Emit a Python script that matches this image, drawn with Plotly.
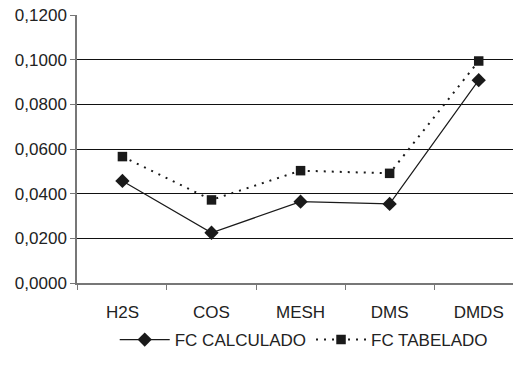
import plotly.graph_objects as go

categories = ["H2S", "COS", "MESH", "DMS", "DMDS"]
fc_calculado = [0.0457, 0.0225, 0.0364, 0.0354, 0.0908]
fc_tabelado = [0.0566, 0.0372, 0.0503, 0.0491, 0.0994]
y_ticks = [0, 0.02, 0.04, 0.06, 0.08, 0.10, 0.12]

fig = go.Figure()
fig.add_trace(go.Scatter(
    x=categories, y=fc_calculado, name="FC CALCULADO",
    mode="lines+markers",
    line=dict(color="#1a1a1a", width=1.2),
    marker=dict(symbol="diamond", size=11, color="#1a1a1a"),
))
fig.add_trace(go.Scatter(
    x=categories, y=fc_tabelado, name="FC TABELADO",
    mode="lines+markers",
    line=dict(color="#1a1a1a", width=2, dash="2px,6px"),
    marker=dict(symbol="square", size=9.5, color="#1a1a1a"),
))

fig.update_layout(
    width=513, height=365,
    margin=dict(l=77, r=0, t=15, b=82),
    paper_bgcolor="white", plot_bgcolor="white",
    separators=",.",
    font=dict(family="Liberation Sans, Arial, sans-serif", size=17, color="#222"),
    showlegend=True,
    legend=dict(orientation="h", x=0.52, xanchor="center",
                yref="container", y=(365 - 340) / 365, yanchor="middle",
                font=dict(size=17), itemwidth=50,
                bgcolor="rgba(0,0,0,0)", borderwidth=0),
    xaxis=dict(
        type="category", range=[-0.51, 4.385],
        tickson="boundaries", ticks="outside", ticklen=5, tickcolor="#777",
        ticklabelstandoff=13,
        showline=True, linecolor="#777", linewidth=1.5,
        showgrid=False, zeroline=False,
    ),
    yaxis=dict(
        range=[0, 0.12], tickvals=y_ticks, tickformat=".4f",
        ticks="outside", ticklen=5, tickcolor="#777",
        showline=True, linecolor="#777", linewidth=1.5,
        showgrid=True, gridcolor="#111", gridwidth=1,
        zeroline=False,
    ),
)

fig.write_html("out.html")
